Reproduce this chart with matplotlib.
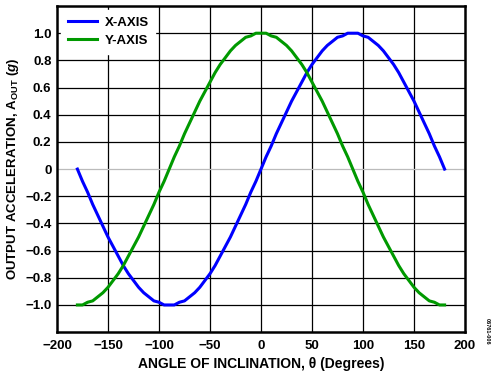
import numpy as np
import matplotlib
matplotlib.use('Agg')
from matplotlib import pyplot as plt

# angle of inclination (degrees), every 5 deg from -180 to 180
angle = list(range(-180, 181, 5))
x_axis = [0.0, -0.09, -0.17, -0.26, -0.34, -0.42, -0.50, -0.57, -0.64, -0.71, -0.77, -0.82, -0.87, -0.91, -0.94, -0.97, -0.98, -1.0,
          -1.0, -1.0, -0.98, -0.97, -0.94, -0.91, -0.87, -0.82, -0.77, -0.71, -0.64, -0.57, -0.50, -0.42, -0.34, -0.26, -0.17, -0.09,
          0.0, 0.09, 0.17, 0.26, 0.34, 0.42, 0.50, 0.57, 0.64, 0.71, 0.77, 0.82, 0.87, 0.91, 0.94, 0.97, 0.98, 1.0,
          1.0, 1.0, 0.98, 0.97, 0.94, 0.91, 0.87, 0.82, 0.77, 0.71, 0.64, 0.57, 0.50, 0.42, 0.34, 0.26, 0.17, 0.09, 0.0]
y_axis = [-1.0, -1.0, -0.98, -0.97, -0.94, -0.91, -0.87, -0.82, -0.77, -0.71, -0.64, -0.57, -0.50, -0.42, -0.34, -0.26, -0.17, -0.09,
          0.0, 0.09, 0.17, 0.26, 0.34, 0.42, 0.50, 0.57, 0.64, 0.71, 0.77, 0.82, 0.87, 0.91, 0.94, 0.97, 0.98, 1.0,
          1.0, 1.0, 0.98, 0.97, 0.94, 0.91, 0.87, 0.82, 0.77, 0.71, 0.64, 0.57, 0.50, 0.42, 0.34, 0.26, 0.17, 0.09,
          0.0, -0.09, -0.17, -0.26, -0.34, -0.42, -0.50, -0.57, -0.64, -0.71, -0.77, -0.82, -0.87, -0.91, -0.94, -0.97, -0.98, -1.0, -1.0]
xticks = [-200, -150, -100, -50, 0, 50, 100, 150, 200]
yticks = [-1.0, -0.8, -0.6, -0.4, -0.2, 0, 0.2, 0.4, 0.6, 0.8, 1.0]
ytick_labels = ['\u22121.0', '\u22120.8', '\u22120.6', '\u22120.4', '\u22120.2', '0', '0.2', '0.4', '0.6', '0.8', '1.0']
xtick_labels = ['\u2212200', '\u2212150', '\u2212100', '\u221250', '0', '50', '100', '150', '200']

plt.rcParams['font.family'] = ['Liberation Sans', 'DejaVu Sans']
plt.rcParams['font.weight'] = 'bold'
plt.rcParams['mathtext.fontset'] = 'custom'
plt.rcParams['mathtext.rm'] = 'Liberation Sans:bold'
plt.rcParams['mathtext.it'] = 'Liberation Sans:italic:bold'
plt.rcParams['mathtext.bf'] = 'Liberation Sans:bold'

fig = plt.figure(figsize=(5, 3.77), dpi=100)
ax = fig.add_axes([0.114, 0.119, 0.816, 0.865])

ax.plot(angle, x_axis, color='#0000ff', lw=2.2, label='X-AXIS', zorder=3)
ax.plot(angle, y_axis, color='#009900', lw=2.2, label='Y-AXIS', zorder=3)

ax.set_xlim(-200, 200)
ax.set_ylim(-1.2, 1.2)
ax.set_xticks(xticks)
ax.set_xticklabels(xtick_labels, fontsize=9.5, fontweight='bold')
ax.set_yticks(yticks)
ax.set_yticklabels(ytick_labels, fontsize=9.5, fontweight='bold')
ax.tick_params(length=0)
ax.tick_params(axis='y', pad=4)
ax.tick_params(axis='x', pad=6)

for v in xticks[1:-1]:
    ax.axvline(v, color='black', lw=0.9, zorder=1)
for v in yticks:
    ax.axhline(v, color='#bbbbbb' if v == 0 else 'black', lw=0.9, zorder=1)

for s in ax.spines.values():
    s.set_linewidth(1.8)

leg = ax.legend(loc='upper left', frameon=True, fancybox=False, fontsize=9.5,
                borderaxespad=0.3, handlelength=2.2, handletextpad=0.6,
                borderpad=0.5, labelspacing=0.45)
leg.get_frame().set_edgecolor('white')
leg.get_frame().set_facecolor('white')
leg.get_frame().set_alpha(1)
leg.set_zorder(4)
for t in leg.get_texts():
    t.set_fontweight('bold')

ax.set_xlabel('ANGLE OF INCLINATION, \u03b8 (Degrees)', fontsize=10, fontweight='bold', labelpad=3)
ax.set_ylabel('OUTPUT ACCELERATION, A$_{\\mathrm{OUT}}$ ($\\mathit{g}$)', fontsize=9.5, fontweight='bold')
ax.yaxis.set_label_coords(-0.088, 0.5)

fig.text(0.975, 0.12, '06761-006', rotation=270, fontsize=4, ha='center', va='center')

fig.savefig('out.png', dpi=100)
